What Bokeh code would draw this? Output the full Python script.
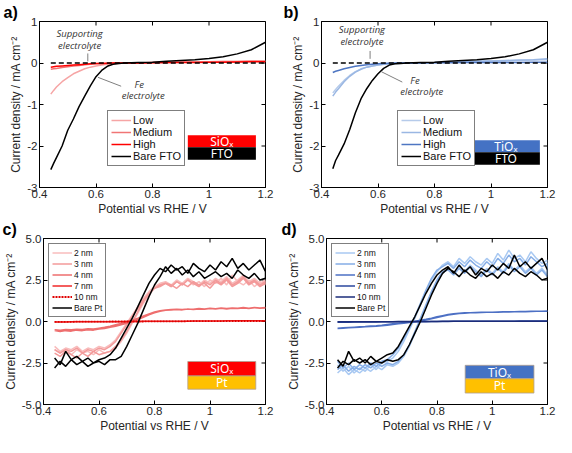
from bokeh.plotting import figure
from bokeh.models import Range1d, FixedTicker, PrintfTickFormatter, Legend, LegendItem, Title
from bokeh.layouts import column, row
from bokeh.core.properties import value
from bokeh.embed import file_html
from bokeh.resources import INLINE

# ---------------- data ----------------
X_TICKS = [0.4, 0.6, 0.8, 1.0, 1.2]
Y_TICKS_AB = [-3, -2, -1, 0, 1]
Y_TICKS_CD = [-5.0, -2.5, 0.0, 2.5, 5.0]
X_LABEL = "Potential vs RHE / V"
Y_LABEL = "Current density / mA cm\u207b\u00b2"

# LSV potentials (panels a, b)
X_LSV = [0.44, 0.45, 0.46, 0.48, 0.50, 0.52, 0.54, 0.56, 0.58, 0.60, 0.62, 0.64, 0.66,
         0.68, 0.70, 0.75, 0.80, 0.85, 0.90, 0.95, 1.00, 1.05, 1.10, 1.15, 1.20]
SUPPORT_X = [0.44, 1.20]
SUPPORT_Y = [0.0, 0.0]

a_low = [-0.75, -0.66, -0.58, -0.45, -0.35, -0.26, -0.20, -0.14, -0.10, -0.07, -0.05, -0.03, -0.02,
         -0.01, 0.0, 0.0, 0.01, 0.02, 0.02, 0.03, 0.03, 0.04, 0.04, 0.05, 0.05]
a_med = [-0.15, -0.14, -0.13, -0.11, -0.09, -0.07, -0.06, -0.04, -0.03, -0.02, -0.01, -0.01, 0.0,
         0.0, 0.0, 0.0, 0.01, 0.01, 0.02, 0.02, 0.02, 0.03, 0.03, 0.04, 0.04]
a_high = [-0.10, -0.09, -0.08, -0.07, -0.06, -0.05, -0.04, -0.03, -0.02, -0.015, -0.01, -0.005, 0.0,
          0.0, 0.0, 0.0, 0.005, 0.01, 0.01, 0.015, 0.02, 0.02, 0.025, 0.03, 0.03]
a_fto = [-2.57, -2.42, -2.28, -2.00, -1.62, -1.35, -1.05, -0.80, -0.55, -0.33, -0.18, -0.08, -0.03,
         -0.01, 0.0, 0.01, 0.02, 0.04, 0.06, 0.08, 0.11, 0.15, 0.22, 0.32, 0.50]

b_low = [-0.72, -0.64, -0.56, -0.42, -0.30, -0.21, -0.14, -0.10, -0.07, -0.05, -0.03, -0.02, -0.01,
         -0.005, 0.0, 0.005, 0.01, 0.02, 0.03, 0.04, 0.05, 0.05, 0.06, 0.07, 0.08]
b_med = [-0.80, -0.70, -0.62, -0.45, -0.32, -0.22, -0.15, -0.10, -0.07, -0.05, -0.03, -0.02, -0.01,
         -0.005, 0.0, 0.005, 0.01, 0.02, 0.03, 0.04, 0.05, 0.06, 0.07, 0.08, 0.10]
b_high = [-0.23, -0.20, -0.18, -0.14, -0.11, -0.08, -0.06, -0.045, -0.03, -0.02, -0.01, -0.005, 0.0,
          0.0, 0.0, 0.0, 0.005, 0.005, 0.01, 0.01, 0.01, 0.015, 0.015, 0.02, 0.02]
b_fto = [-2.55, -2.35, -2.22, -1.95, -1.60, -1.20, -0.86, -0.62, -0.42, -0.26, -0.13, -0.05, -0.02,
         -0.01, 0.0, 0.01, 0.02, 0.04, 0.06, 0.08, 0.11, 0.15, 0.22, 0.32, 0.50]

# CV potentials (panels c, d)
X_CV = [0.44, 0.46, 0.48, 0.50, 0.52, 0.54, 0.56, 0.58, 0.60, 0.62, 0.64, 0.66, 0.68, 0.70,
        0.72, 0.74, 0.76, 0.78, 0.80, 0.82, 0.84, 0.86, 0.88, 0.90, 0.92, 0.94, 0.96, 0.98,
        1.00, 1.02, 1.04, 1.06, 1.08, 1.10, 1.12, 1.14, 1.16, 1.18, 1.20]

c_2nm_fwd = [-1.7, -1.9, -1.6, -2.0, -1.7, -1.9, -1.8, -2.0, -1.7, -1.9, -1.8, -1.6, -1.2, -0.7, -0.1, 0.5,
             1.1, 1.6, 2.0, 2.2, 2.3, 2.1, 2.4, 2.2, 2.5, 2.2, 2.4, 2.1, 2.5, 2.3, 2.6, 2.2, 2.8, 2.4,
             2.2, 2.5, 2.1, 2.4, 2.2]
c_2nm_rev = [-1.5, -1.8, -1.6, -1.7, -1.5, -1.8, -1.6, -1.7, -1.5, -1.6, -1.4, -1.1, -0.6, -0.1, 0.4, 0.9,
             1.4, 1.8, 2.1, 2.3, 2.4, 2.2, 2.5, 2.3, 2.6, 2.4, 2.2, 2.5, 2.3, 2.6, 2.4, 2.7, 2.3, 2.5,
             2.8, 2.4, 2.6, 2.3, 2.5]
c_3nm_fwd = [-1.9, -2.1, -1.8, -2.0, -2.2, -1.9, -2.1, -1.8, -2.0, -1.9, -1.8, -1.5, -1.1, -0.6, 0.0, 0.6,
             1.2, 1.7, 2.0, 2.1, 2.3, 2.2, 2.0, 2.3, 2.1, 2.4, 2.2, 2.3, 2.0, 2.4, 2.2, 2.5, 2.1, 2.3,
             2.6, 2.2, 2.4, 2.1, 2.3]
c_3nm_rev = [-1.7, -1.9, -1.7, -1.8, -1.6, -1.9, -1.7, -1.8, -1.6, -1.7, -1.5, -1.2, -0.7, -0.2, 0.3, 0.8,
             1.3, 1.7, 2.0, 2.2, 2.3, 2.1, 2.4, 2.2, 2.5, 2.3, 2.1, 2.4, 2.2, 2.5, 2.3, 2.6, 2.2, 2.4,
             2.7, 2.3, 2.5, 2.2, 2.4]
c_4nm_fwd = [-0.55, -0.60, -0.55, -0.58, -0.52, -0.55, -0.50, -0.52, -0.45, -0.42, -0.35, -0.28, -0.20,
             -0.10, 0.0, 0.12, 0.25, 0.40, 0.52, 0.62, 0.68, 0.70, 0.72, 0.70, 0.75, 0.72, 0.76, 0.74,
             0.78, 0.75, 0.80, 0.76, 0.80, 0.78, 0.82, 0.79, 0.83, 0.80, 0.82]
c_4nm_rev = [-0.50, -0.52, -0.48, -0.50, -0.46, -0.48, -0.44, -0.45, -0.40, -0.35, -0.28, -0.20, -0.12,
             -0.03, 0.08, 0.20, 0.33, 0.46, 0.57, 0.65, 0.70, 0.72, 0.74, 0.72, 0.76, 0.74, 0.78, 0.76,
             0.80, 0.77, 0.81, 0.78, 0.82, 0.80, 0.84, 0.80, 0.84, 0.82, 0.85]
c_7nm = [-0.03, -0.03, -0.03, -0.02, -0.02, -0.02, -0.02, -0.02, -0.01, -0.01, -0.01, -0.01, -0.01,
         0.0, 0.0, 0.0, 0.01, 0.01, 0.01, 0.01, 0.02, 0.02, 0.02, 0.02, 0.02, 0.03, 0.03, 0.03, 0.03,
         0.03, 0.03, 0.04, 0.04, 0.04, 0.04, 0.04, 0.05, 0.05, 0.05]
c_10nm = [-0.02, -0.02, -0.02, -0.02, -0.01, -0.01, -0.01, -0.01, -0.01, -0.01, 0.0, 0.0, 0.0, 0.0,
          0.0, 0.0, 0.0, 0.01, 0.01, 0.01, 0.01, 0.01, 0.01, 0.01, 0.02, 0.02, 0.02, 0.02, 0.02, 0.02,
          0.02, 0.02, 0.03, 0.03, 0.03, 0.03, 0.03, 0.03, 0.03]
c_pt_fwd = [-2.8, -2.4, -2.7, -2.3, -2.6, -2.4, -2.7, -2.5, -2.4, -2.6, -2.3, -2.3, -2.1, -1.5, -0.8, -0.1,
            0.7, 1.5, 2.2, 2.7, 3.3, 2.9, 3.2, 2.8, 3.1, 2.7, 3.0, 2.6, 2.8, 3.0, 2.7, 2.9, 2.6, 3.1,
            2.8, 2.6, 2.9, 2.5, 2.6]
c_pt_rev = [-2.2, -2.6, -1.8, -2.3, -2.1, -2.4, -2.2, -2.5, -2.3, -2.2, -2.0, -1.6, -1.0, -0.4, 0.2, 0.9,
            1.6, 2.3, 2.8, 3.2, 3.0, 3.4, 3.1, 3.3, 2.9, 3.5, 3.2, 3.0, 3.4, 3.1, 3.6, 3.3, 3.8, 3.2,
            3.5, 3.1, 3.4, 3.7, 3.0]

d_2nm_fwd = [-3.1, -2.8, -3.2, -2.9, -3.1, -2.8, -3.0, -2.7, -2.9, -2.6, -2.7, -2.5, -2.1, -1.5, -0.7, 0.1,
             0.9, 1.7, 2.4, 2.9, 3.2, 2.9, 3.3, 3.0, 3.4, 3.1, 2.8, 3.2, 2.9, 3.3, 3.0, 3.5, 3.1, 3.4,
             3.0, 3.3, 2.9, 3.2, 2.8]
d_2nm_rev = [-2.6, -3.0, -2.7, -3.1, -2.8, -3.0, -2.6, -2.9, -2.5, -2.4, -2.2, -1.8, -1.2, -0.5, 0.2, 1.0,
             1.8, 2.5, 3.0, 3.4, 3.6, 3.3, 3.8, 3.5, 3.9, 3.6, 3.4, 3.8, 3.5, 4.1, 3.7, 4.3, 3.8, 4.0,
             3.6, 4.2, 3.8, 3.5, 3.7]
d_3nm_fwd = [-2.9, -2.6, -3.0, -2.7, -2.9, -2.6, -2.8, -2.5, -2.7, -2.5, -2.6, -2.4, -2.0, -1.4, -0.6, 0.2,
             1.0, 1.8, 2.5, 3.0, 3.1, 2.8, 3.2, 2.9, 3.3, 3.0, 2.7, 3.1, 2.8, 3.2, 2.9, 3.4, 3.0, 3.3,
             2.9, 3.2, 2.8, 3.1, 2.7]
d_3nm_rev = [-2.4, -2.8, -2.5, -2.9, -2.6, -2.8, -2.5, -2.7, -2.4, -2.3, -2.0, -1.6, -1.0, -0.4, 0.3, 1.1,
             1.9, 2.6, 3.1, 3.3, 3.5, 3.2, 3.6, 3.3, 3.7, 3.4, 3.2, 3.6, 3.3, 3.8, 3.5, 4.0, 3.6, 3.8,
             3.4, 3.9, 3.6, 3.3, 3.5]
d_4nm_fwd = [-0.42, -0.40, -0.38, -0.36, -0.34, -0.32, -0.30, -0.28, -0.25, -0.22, -0.18, -0.14, -0.10,
             -0.06, -0.02, 0.03, 0.09, 0.16, 0.24, 0.32, 0.39, 0.44, 0.48, 0.50, 0.52, 0.53, 0.54, 0.55,
             0.55, 0.56, 0.57, 0.57, 0.58, 0.59, 0.59, 0.60, 0.61, 0.61, 0.62]
d_4nm_rev = [-0.40, -0.38, -0.36, -0.34, -0.32, -0.30, -0.27, -0.25, -0.22, -0.18, -0.14, -0.10, -0.06,
             -0.02, 0.02, 0.07, 0.13, 0.20, 0.28, 0.35, 0.42, 0.46, 0.50, 0.52, 0.53, 0.54, 0.55, 0.56,
             0.56, 0.57, 0.58, 0.58, 0.59, 0.60, 0.60, 0.61, 0.62, 0.62, 0.63]
d_7nm = [-0.04, -0.04, -0.04, -0.03, -0.03, -0.03, -0.03, -0.03, -0.02, -0.02, -0.02, -0.02, -0.02,
         -0.01, -0.01, -0.01, -0.01, 0.0, 0.0, 0.0, 0.0, 0.01, 0.01, 0.01, 0.01, 0.01, 0.01, 0.02, 0.02,
         0.02, 0.02, 0.02, 0.02, 0.03, 0.03, 0.03, 0.03, 0.03, 0.03]
d_10nm = [-0.02, -0.02, -0.02, -0.02, -0.02, -0.01, -0.01, -0.01, -0.01, -0.01, -0.01, 0.0, 0.0, 0.0,
          0.0, 0.0, 0.0, 0.0, 0.0, 0.01, 0.01, 0.01, 0.01, 0.01, 0.01, 0.01, 0.01, 0.01, 0.02, 0.02,
          0.02, 0.02, 0.02, 0.02, 0.02, 0.02, 0.02, 0.02, 0.02]
d_pt_fwd = [-2.8, -2.4, -2.6, -2.3, -2.5, -2.3, -2.6, -2.4, -2.5, -2.3, -2.4, -2.3, -2.0, -1.4, -0.7, 0.0,
            0.8, 1.6, 2.3, 2.9, 3.2, 3.0, 2.7, 3.1, 2.8, 2.6, 3.0, 2.7, 2.9, 2.6, 3.0, 2.8, 3.2, 2.9,
            2.7, 3.0, 2.8, 2.5, 2.6]
d_pt_rev = [-2.3, -2.7, -1.8, -2.4, -2.2, -2.5, -2.1, -2.4, -2.2, -2.0, -1.9, -1.5, -0.9, -0.3, 0.3, 1.0,
            1.7, 2.3, 2.8, 3.1, 3.3, 2.9, 3.4, 3.0, 3.3, 2.8, 3.2, 3.0, 3.4, 3.1, 3.5, 3.2, 4.0, 3.3,
            3.6, 3.2, 3.5, 3.8, 3.1]

LSV_LABELS = ["Low", "Medium", "High", "Bare FTO"]
CV_LABELS = ["2 nm", "3 nm", "4 nm", "7 nm", "10 nm", "Bare Pt"]

COL_A = ["#F6A5A5", "#F07575", "#FF0000", "#000000"]
COL_B = ["#B6CBEA", "#9AB7E3", "#4E76C2", "#000000"]
COL_C = ["#F8BCBC", "#F39A9A", "#EE6E6E", "#F02828", "#E00000", "#000000"]
COL_D = ["#A9C9F2", "#85ADE6", "#4D70C4", "#2B479E", "#1B2C7A", "#000000"]

FONT = "Liberation Sans"
ITAL_FONT = "Open Sans"
INK = "#262626"


def loop(fwd, rev):
    return X_CV + X_CV[::-1], fwd + rev[::-1]


def make_fig(w, h, bl, br, bt, bb, yr, yticks, yfmt, tag, tag_dx):
    p = figure(width=w, height=h, x_range=Range1d(0.4, 1.2), y_range=Range1d(*yr),
               output_backend="svg", toolbar_location=None,
               min_border_left=bl, min_border_right=br, min_border_top=bt, min_border_bottom=bb,
               outline_line_color="black", outline_line_width=1, outline_line_alpha=1,
               title=Title(text=tag, align="left", offset=tag_dx, standoff=1,
                           text_font=FONT, text_font_style="bold", text_font_size="16px",
                           text_color="black"))
    p.grid.visible = False
    p.xaxis.ticker = FixedTicker(ticks=X_TICKS)
    p.xaxis.formatter = PrintfTickFormatter(format="%g")
    p.yaxis.ticker = FixedTicker(ticks=yticks)
    p.yaxis.formatter = PrintfTickFormatter(format=yfmt)
    p.xaxis.axis_label = X_LABEL
    p.yaxis.axis_label = Y_LABEL
    for ax in (p.xaxis[0], p.yaxis[0]):
        ax.major_tick_in = 4
        ax.major_tick_out = 0
        ax.minor_tick_line_color = None
        ax.axis_line_color = "black"
        ax.major_tick_line_color = "black"
        ax.major_label_text_font = FONT
        ax.major_label_text_font_size = "11.5px"
        ax.major_label_text_color = INK
        ax.axis_label_text_font = FONT
        ax.axis_label_text_font_size = "12px"
        ax.axis_label_text_font_style = "normal"
        ax.axis_label_text_color = INK
        ax.major_label_standoff = 2
        ax.axis_label_standoff = 1
    # mirrored inward ticks on the top and right edges of the box
    p.rect(x=X_TICKS, y=[yr[1]] * len(X_TICKS), width=1, height=8, width_units="screen",
           height_units="screen", fill_color="black", line_color=None)
    p.rect(x=[1.2] * len(yticks), y=yticks, width=8, height=1, width_units="screen",
           height_units="screen", fill_color="black", line_color=None)
    return p


def add_legend(p, labels, rends, loc, fs, gh, margin=0):
    lg = Legend(items=[LegendItem(label=l, renderers=[r]) for l, r in zip(labels, rends)],
                location=loc, border_line_color="black", border_line_width=1,
                background_fill_alpha=1, label_text_font=FONT, label_text_font_size=fs,
                glyph_width=20, glyph_height=gh, label_height=gh, spacing=0, padding=3,
                margin=margin, label_standoff=2, label_text_color="#111111")
    p.add_layout(lg)


def add_box(p, x0, x1, ys, cols, texts, fs="12px", edge=None):
    p.quad(left=[x0, x0], right=[x1, x1], top=ys[0:2], bottom=ys[1:3], fill_color=cols,
           line_color=edge, line_width=0.8)
    cx = (x0 + x1) / 2
    p.text(x=[cx, cx], y=[(ys[0] + ys[1]) / 2, (ys[1] + ys[2]) / 2], text=texts,
           text_font=value("Noto Sans"), text_font_size=fs, text_color="white",
           text_align="center", text_baseline="middle")


def annotate(p, sup, sup_line, fe, fe_line):
    txt_x = [sup[0], sup[0], fe[0][0], fe[1][0]]
    txt_y = [sup[1], sup[2], fe[0][1], fe[1][1]]
    p.text(x=txt_x, y=txt_y, text=["Supporting", "electrolyte", "Fe", "electrolyte"],
           text_font=value(ITAL_FONT), text_font_style="italic", text_font_size="9.5px",
           text_color="#333333", text_align="center", text_baseline="middle")
    p.segment(x0=[sup_line[0], fe_line[0]], y0=[sup_line[1], fe_line[1]],
              x1=[sup_line[2], fe_line[2]], y1=[sup_line[3], fe_line[3]],
              line_color="#7f7f7f", line_width=1)


# ---------------- panel a ----------------
pa = make_fig(278, 218, 39, 13, 21, 30, (-3, 1), Y_TICKS_AB, "%g", "a)", -36)
ra = []
for ys, c in zip([a_low, a_med, a_high, a_fto], COL_A):
    ra.append(pa.line(X_LSV, ys, line_color=c, line_width=1.5))
pa.line(SUPPORT_X, SUPPORT_Y, line_color="black", line_width=1.5, line_dash="5 3")
annotate(pa, (0.542, 0.70, 0.42), (0.571, 0.23, 0.571, 0.04),
         ((0.753, -0.51), (0.767, -0.79)), (0.607, -0.345, 0.689, -0.56))
add_legend(pa, LSV_LABELS, ra, (68, 21), "11px", 12)
add_box(pa, 0.925, 1.166, [-1.74, -2.03, -2.33], ["#FF0000", "#000000"], ["SiO\u2093", "FTO"])

# ---------------- panel b ----------------
pb = make_fig(278, 218, 43, 9, 21, 30, (-3, 1), Y_TICKS_AB, "%g", "b)", -38)
rb = []
for ys, c in zip([b_low, b_med, b_high, b_fto], COL_B):
    rb.append(pb.line(X_LSV, ys, line_color=c, line_width=1.5))
pb.line(SUPPORT_X, SUPPORT_Y, line_color="black", line_width=1.5, line_dash="5 3")
annotate(pb, (0.543, 0.80, 0.52), (0.572, 0.29, 0.572, 0.10),
         ((0.731, -0.42), (0.755, -0.69)), (0.612, -0.21, 0.686, -0.46))
add_legend(pb, LSV_LABELS, rb, (76, 21), "11px", 12)
add_box(pb, 0.933, 1.173, [-1.86, -2.15, -2.45], ["#4472C4", "#000000"], ["TiO\u2093", "FTO"])

# ---------------- panel c ----------------
pc = make_fig(278, 219, 43, 13, 20, 33, (-5, 5), Y_TICKS_CD, "%.1f", "c)", -41)
rc = []
for (f, r), c in zip([(c_2nm_fwd, c_2nm_rev), (c_3nm_fwd, c_3nm_rev), (c_4nm_fwd, c_4nm_rev)], COL_C[:3]):
    xs, ys = loop(f, r)
    rc.append(pc.line(xs, ys, line_color=c, line_width=1.5))
rc.append(pc.line(X_CV, c_7nm, line_color=COL_C[3], line_width=1.5))
rc.append(pc.line(X_CV, c_10nm, line_color=COL_C[4], line_width=1.8, line_dash="2 1"))
xs, ys = loop(c_pt_fwd, c_pt_rev)
rc.append(pc.line(xs, ys, line_color=COL_C[5], line_width=1.5))
add_legend(pc, CV_LABELS, rc, "top_left", "8.5px", 11, margin=5)
add_box(pc, 0.92, 1.165, [-2.41, -3.28, -4.08], ["#FF0000", "#FFC000"], ["SiO\u2093", "Pt"],
        edge="#b0a090")

# ---------------- panel d ----------------
pd_ = make_fig(278, 219, 48, 9, 20, 33, (-5, 5), Y_TICKS_CD, "%.1f", "d)", -45)
rd = []
for (f, r), c in zip([(d_2nm_fwd, d_2nm_rev), (d_3nm_fwd, d_3nm_rev), (d_4nm_fwd, d_4nm_rev)], COL_D[:3]):
    xs, ys = loop(f, r)
    rd.append(pd_.line(xs, ys, line_color=c, line_width=1.5))
rd.append(pd_.line(X_CV, d_7nm, line_color=COL_D[3], line_width=1.5))
rd.append(pd_.line(X_CV, d_10nm, line_color=COL_D[4], line_width=1.5))
xs, ys = loop(d_pt_fwd, d_pt_rev)
rd.append(pd_.line(xs, ys, line_color=COL_D[5], line_width=1.5))
add_legend(pd_, CV_LABELS, rd, "top_left", "8.5px", 11, margin=5)
add_box(pd_, 0.902, 1.151, [-2.64, -3.45, -4.31], ["#4472C4", "#FFC000"], ["TiO\u2093", "Pt"],
        edge="#b0a090")

layout = column(row(pa, pb, spacing=0), row(pc, pd_, spacing=0), spacing=0)
open("out.html", "w").write(file_html(layout, INLINE))
